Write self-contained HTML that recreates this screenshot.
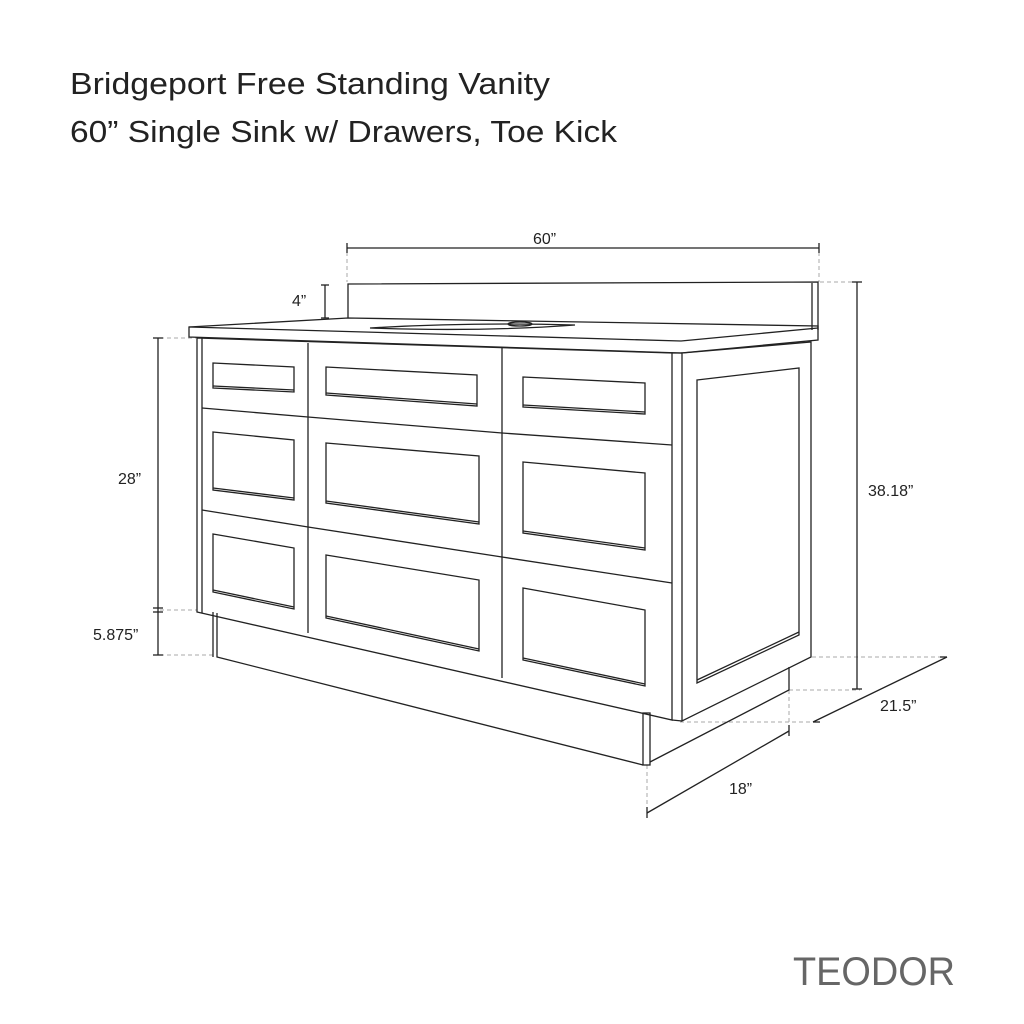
<!DOCTYPE html>
<html><head><meta charset="utf-8"><style>
html,body{margin:0;padding:0;background:#fff;}
svg{display:block;}
text{font-family:"Liberation Sans",sans-serif;}
</style></head><body>
<svg width="1024" height="1024" viewBox="0 0 1024 1024" xmlns="http://www.w3.org/2000/svg">
<text x="70" y="94" font-size="31" fill="#222" textLength="480" lengthAdjust="spacingAndGlyphs">Bridgeport Free Standing Vanity</text>
<text x="70" y="142" font-size="31" fill="#222" textLength="547" lengthAdjust="spacingAndGlyphs">60” Single Sink w/ Drawers, Toe Kick</text>
<text x="793" y="985" font-size="40" fill="#666" textLength="162" lengthAdjust="spacingAndGlyphs">TEODOR</text>

<g fill="none" stroke="#aaa" stroke-width="1" stroke-dasharray="4,3">
<line x1="347" y1="252" x2="347" y2="282"/><line x1="819" y1="252" x2="819" y2="282"/>
<line x1="160" y1="338" x2="196" y2="338"/><line x1="160" y1="610" x2="197" y2="610"/>
<line x1="160" y1="655" x2="216" y2="655"/>
<line x1="820" y1="282" x2="857" y2="282"/><line x1="789" y1="690" x2="860" y2="690"/>
<line x1="812" y1="657" x2="947" y2="657"/><line x1="680" y1="722" x2="820" y2="722"/>
<line x1="789" y1="690" x2="789" y2="731"/><line x1="647" y1="765" x2="647" y2="813"/>
</g>

<g fill="none" stroke="#222" stroke-width="1.3">
<!-- dimensions -->
<line x1="347" y1="248" x2="819" y2="248"/><line x1="347" y1="243" x2="347" y2="253"/><line x1="819" y1="243" x2="819" y2="253"/>
<line x1="325" y1="285" x2="325" y2="318"/><line x1="321" y1="285" x2="329" y2="285"/><line x1="321" y1="318" x2="329" y2="318"/>
<line x1="158" y1="338" x2="158" y2="655"/><line x1="153" y1="338" x2="163" y2="338"/><line x1="153" y1="608" x2="163" y2="608"/><line x1="153" y1="612" x2="163" y2="612"/><line x1="153" y1="655" x2="163" y2="655"/>
<line x1="857" y1="282" x2="857" y2="689"/><line x1="852" y1="282" x2="862" y2="282"/><line x1="852" y1="689" x2="862" y2="689"/>
<line x1="813" y1="722" x2="947" y2="657"/><line x1="813" y1="722" x2="820" y2="722"/><line x1="940" y1="657" x2="947" y2="657"/>
<line x1="647" y1="813" x2="789" y2="731"/><line x1="647" y1="807" x2="647" y2="818"/><line x1="789" y1="725" x2="789" y2="736"/>

<!-- backsplash -->
<polyline points="348,318 348,284 818,282 818,330"/>
<line x1="812" y1="283" x2="812" y2="330"/>
<!-- countertop -->
<polygon points="189,327 348,318 818,326 818,340 681,353 189,337"/>
<line x1="189" y1="327" x2="681" y2="341"/><line x1="681" y1="341" x2="818" y2="328"/>
<path d="M370,328 Q470,322 575,325 Q480,332 370,328 Z"/>
<ellipse cx="520" cy="324" rx="12" ry="2"/>
<!-- cabinet front -->
<polygon points="197,338 672,353 672,720 197,612"/>
<line x1="202" y1="338" x2="202" y2="613"/>
<line x1="308" y1="343" x2="308" y2="633"/>
<line x1="502" y1="348" x2="502" y2="678"/>
<line x1="672" y1="353" x2="682" y2="353"/>
<polyline points="202,408 308,417 502,433 672,445"/>
<polyline points="202,510 308,527 502,557 672,583"/>
<!-- panels -->
<polygon points="213,363 294,367 294,392 213,388"/><line x1="213" y1="386" x2="294" y2="390"/>
<polygon points="326,367 477,375 477,406 326,395"/><line x1="326" y1="393" x2="477" y2="404"/>
<polygon points="523,377 645,383 645,414 523,407"/><line x1="523" y1="405" x2="645" y2="412"/>
<polygon points="213,432 294,440 294,500 213,490"/><line x1="213" y1="488" x2="294" y2="498"/>
<polygon points="326,443 479,456 479,524 326,503"/><line x1="326" y1="501" x2="479" y2="522"/>
<polygon points="523,462 645,473 645,550 523,533"/><line x1="523" y1="531" x2="645" y2="548"/>
<polygon points="213,534 294,548 294,609 213,592"/><line x1="213" y1="590" x2="294" y2="607"/>
<polygon points="326,555 479,580 479,651 326,618"/><line x1="326" y1="616" x2="479" y2="649"/>
<polygon points="523,588 645,610 645,686 523,660"/><line x1="523" y1="658" x2="645" y2="684"/>
<!-- side -->
<polygon points="682,353 811,342 811,657 682,721"/>
<line x1="672" y1="720" x2="682" y2="721"/>
<polygon points="697,380 799,368 799,635 697,683"/><line x1="697" y1="680" x2="799" y2="632"/>
<!-- toe kick -->
<polyline points="217,613 217,657 643,765"/>
<line x1="213" y1="612" x2="213" y2="657"/>
<rect x="643" y="713" width="7" height="52"/>
<polyline points="650,762 789,690 789,667"/>
</g>

<g font-size="16" fill="#222">
<text x="533" y="244">60”</text>
<text x="292" y="306">4”</text>
<text x="118" y="484">28”</text>
<text x="93" y="640">5.875”</text>
<text x="868" y="496">38.18”</text>
<text x="880" y="711">21.5”</text>
<text x="729" y="794">18”</text>
</g>
</svg>
</body></html>
